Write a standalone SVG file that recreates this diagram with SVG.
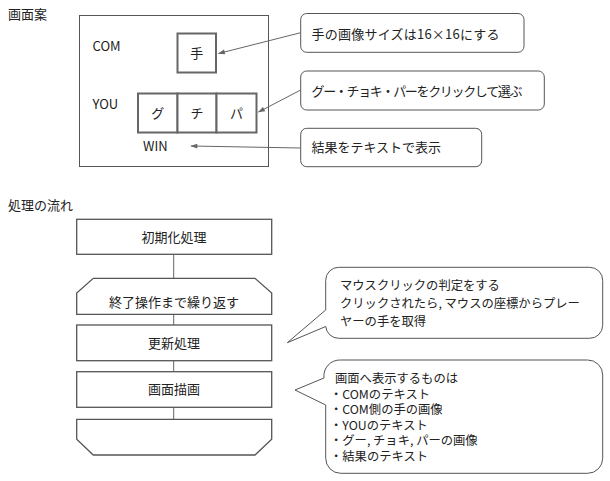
<svg xmlns="http://www.w3.org/2000/svg" width="610" height="481" viewBox="0 0 610 481">
<style>
text{font-family:"Noto Sans CJK JP","Noto Sans",sans-serif;font-size:13px;fill:#222}
.b{font-size:12.3px}
.box{fill:#fff;stroke:#555;stroke-width:1.3}
.hand{fill:#fff;stroke:#666;stroke-width:2}
.line{fill:none;stroke:#666;stroke-width:1}
.c{text-anchor:middle}
</style>
<defs>
<marker id="ah" viewBox="0 0 10 10" refX="9" refY="5" markerWidth="9" markerHeight="7" orient="auto" markerUnits="userSpaceOnUse">
<path d="M0,1.5 L10,5 L0,8.5 Z" fill="#666"/>
</marker>
</defs>
<rect width="610" height="481" fill="#fff"/>
<text x="8" y="19">画面案</text>
<text x="8" y="210">処理の流れ</text>

<g id="screen">
<rect x="79.5" y="15.5" width="189" height="151" fill="#fff" stroke="#555" stroke-width="1"/>
<text x="92.5" y="51">COM</text>
<text x="92.5" y="109">YOU</text>
<text x="143" y="151">WIN</text>
</g>
<g id="hand-com">
<rect class="hand" x="177.5" y="33.5" width="38.5" height="39"/>
<text class="c" x="196.7" y="57.5">手</text>
</g>
<g id="hand-you">
<rect class="hand" x="138" y="93.5" width="39.5" height="39"/>
<rect class="hand" x="177.5" y="93.5" width="39" height="39"/>
<rect class="hand" x="216.5" y="93.5" width="40" height="39"/>
<text class="c" x="157.7" y="117.5">グ</text>
<text class="c" x="197" y="117.5">チ</text>
<text class="c" x="236.5" y="117.5">パ</text>
</g>

<g id="note1">
<rect x="300.7" y="13.5" width="223.3" height="38.8" rx="6" fill="#fff" stroke="#555" stroke-width="1"/>
<text x="311.5" y="38.5" textLength="188" lengthAdjust="spacing">手の画像サイズは16×16にする</text>
</g>
<g id="note2">
<rect x="300.7" y="71" width="243.6" height="39" rx="6" fill="#fff" stroke="#555" stroke-width="1"/>
<text x="311.5" y="95.5" textLength="211" lengthAdjust="spacing">グー・チョキ・パーをクリックして選ぶ</text>
</g>
<g id="note3">
<rect x="300.7" y="128.3" width="181" height="38.4" rx="6" fill="#fff" stroke="#555" stroke-width="1"/>
<text x="311.5" y="152">結果をテキストで表示</text>
</g>

<g id="connectors">
<line class="line" x1="300.7" y1="32.7" x2="218.5" y2="53.5" marker-end="url(#ah)"/>
<line class="line" x1="300.7" y1="90" x2="258.5" y2="112" marker-end="url(#ah)"/>
<line class="line" x1="300.7" y1="148" x2="191" y2="146" marker-end="url(#ah)"/>
<line class="line" x1="173.7" y1="254.3" x2="173.7" y2="278.3" stroke="#555"/>
<line class="line" x1="173.7" y1="314.3" x2="173.7" y2="325" stroke="#555"/>
<line class="line" x1="173.7" y1="360.7" x2="173.7" y2="371.7" stroke="#555"/>
<line class="line" x1="173.7" y1="407.3" x2="173.7" y2="419.3" stroke="#555"/>
</g>

<g id="init">
<rect class="box" x="76.7" y="219.3" width="195" height="35"/>
<text class="c" x="174" y="241.5">初期化処理</text>
</g>
<g id="loop-start">
<path class="box" d="M93.3,278.3 H255 L271.7,293 V314.3 H76.7 V293 Z"/>
<text class="c" x="174" y="306.5">終了操作まで繰り返す</text>
</g>
<g id="update">
<rect class="box" x="76.7" y="325" width="195" height="35.7"/>
<text class="c" x="174" y="348">更新処理</text>
</g>
<g id="draw">
<rect class="box" x="76.7" y="371.7" width="195" height="35.6"/>
<text class="c" x="174" y="394">画面描画</text>
</g>
<g id="loop-end">
<path class="box" d="M76.7,419.3 H271.7 V439.3 L255,455 H93.3 L76.7,439.3 Z"/>
</g>

<g id="bubble1">
<path d="M338.7,267.3 H589.7 A13,13 0 0 1 602.7,280.3 V325.3 A13,13 0 0 1 589.7,338.3 H338.7 A13,13 0 0 1 325.7,326.5 L287.3,342.7 L325.7,310 V280.3 A13,13 0 0 1 338.7,267.3 Z" fill="#fff" stroke="#555" stroke-width="1"/>
<text class="b" x="340" y="290">マウスクリックの判定をする</text>
<text class="b" x="340" y="308">クリックされたら, マウスの座標からプレー</text>
<text class="b" x="340" y="325.5">ヤーの手を取得</text>
</g>
<g id="bubble2">
<path d="M340.7,360 H587.7 A15,15 0 0 1 602.7,375 V458.3 A15,15 0 0 1 587.7,473.3 H340.7 A15,15 0 0 1 325.7,458.3 V405 L295,390 L324,378 A16,16 0 0 1 340.7,360 Z" fill="#fff" stroke="#555" stroke-width="1"/>
<text class="b" x="335" y="383">画面へ表示するものは</text>
<text class="b" x="330" y="398.5">・COMのテキスト</text>
<text class="b" x="330" y="414">・COM側の手の画像</text>
<text class="b" x="330" y="429.5">・YOUのテキスト</text>
<text class="b" x="330" y="445">・グー, チョキ, パーの画像</text>
<text class="b" x="330" y="460.5">・結果のテキスト</text>
</g>
</svg>
